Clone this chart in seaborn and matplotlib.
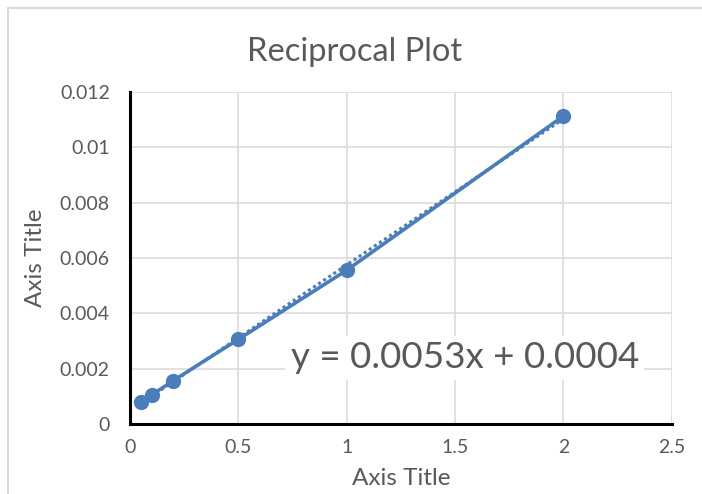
import numpy as np
import pandas as pd
import seaborn as sns
import matplotlib.pyplot as plt
from matplotlib.patches import Rectangle
from matplotlib.ticker import MultipleLocator

# reciprocal values
recip_x = [0.05, 0.1, 0.2, 0.5, 1.0, 2.0]
recip_y = [0.00080, 0.00105, 0.00157, 0.00306, 0.00556, 0.01113]
x_ticks = [0, 0.5, 1, 1.5, 2, 2.5]
y_ticks = [0, 0.002, 0.004, 0.006, 0.008, 0.01, 0.012]
x_labels = ["0", "0.5", "1", "1.5", "2", "2.5"]
y_labels = ["0", "0.002", "0.004", "0.006", "0.008", "0.01", "0.012"]
trend_label = "y = 0.0053x + 0.0004"

df = pd.DataFrame({"x": recip_x, "y": recip_y})

sns.set_style("white")
plt.rcParams["font.family"] = ["Lato", "DejaVu Sans"]

blue = "#4a7ebb"
grey_txt = "#595959"

fig = plt.figure(figsize=(7.02, 4.94), dpi=100)
ax = fig.add_axes([0.1852, 0.1417, 0.7718, 0.6721])

# chart border (left/top edges visible)
fig.patches.append(Rectangle((8 / 702, -0.1), 1.2, 1 - 8 / 494 + 0.1,
                             transform=fig.transFigure, fill=False,
                             edgecolor="#d9d9d9", linewidth=1.5))

# dotted linear trendline
sns.regplot(data=df, x="x", y="y", ax=ax, scatter=False, ci=None,
            line_kws={"color": blue, "linestyle": (0, (1, 1)), "linewidth": 2.2, "zorder": 2})

sns.lineplot(data=df, x="x", y="y", ax=ax, color=blue, linewidth=2.6,
             marker="o", markersize=11, markeredgewidth=0, zorder=3)

ax.set_xlim(0, 2.5)
ax.set_ylim(0, 0.012)
ax.set_xticks(x_ticks)
ax.set_xticklabels(x_labels)
ax.set_yticks(y_ticks)
ax.set_yticklabels(y_labels)
ax.xaxis.set_minor_locator(MultipleLocator(0.1))
ax.yaxis.set_minor_locator(MultipleLocator(0.0002))

ax.grid(True, which="major", color="#dcdcdc", linewidth=1.2)
ax.set_axisbelow(True)
for s in ["top", "right"]:
    ax.spines[s].set_visible(False)
for s in ["left", "bottom"]:
    ax.spines[s].set_color("black")
    ax.spines[s].set_linewidth(2.2)
    ax.spines[s].set_zorder(4)

ax.tick_params(which="major", direction="inout", length=9, width=2.2, color="black",
               labelsize=14, labelcolor=grey_txt)
ax.tick_params(axis="y", which="major", pad=10)
ax.tick_params(axis="x", which="major", pad=6)
ax.tick_params(which="minor", direction="out", length=4, width=2.2, color="black")

fig.text(355 / 702, 1 - 52 / 494, "Reciprocal Plot", fontsize=23.5, color=grey_txt,
         ha="center", va="center")
ax.set_xlabel("Axis Title", fontsize=17.5, color=grey_txt, labelpad=9)
ax.set_ylabel("Axis Title", fontsize=17.5, color=grey_txt, labelpad=10)

ax.text(1.545, 0.00239, trend_label, fontsize=26.5, color=grey_txt, zorder=5,
        ha="center", va="center",
        bbox={"facecolor": "white", "edgecolor": "none", "pad": 4})

fig.savefig("out.png", dpi=100)
